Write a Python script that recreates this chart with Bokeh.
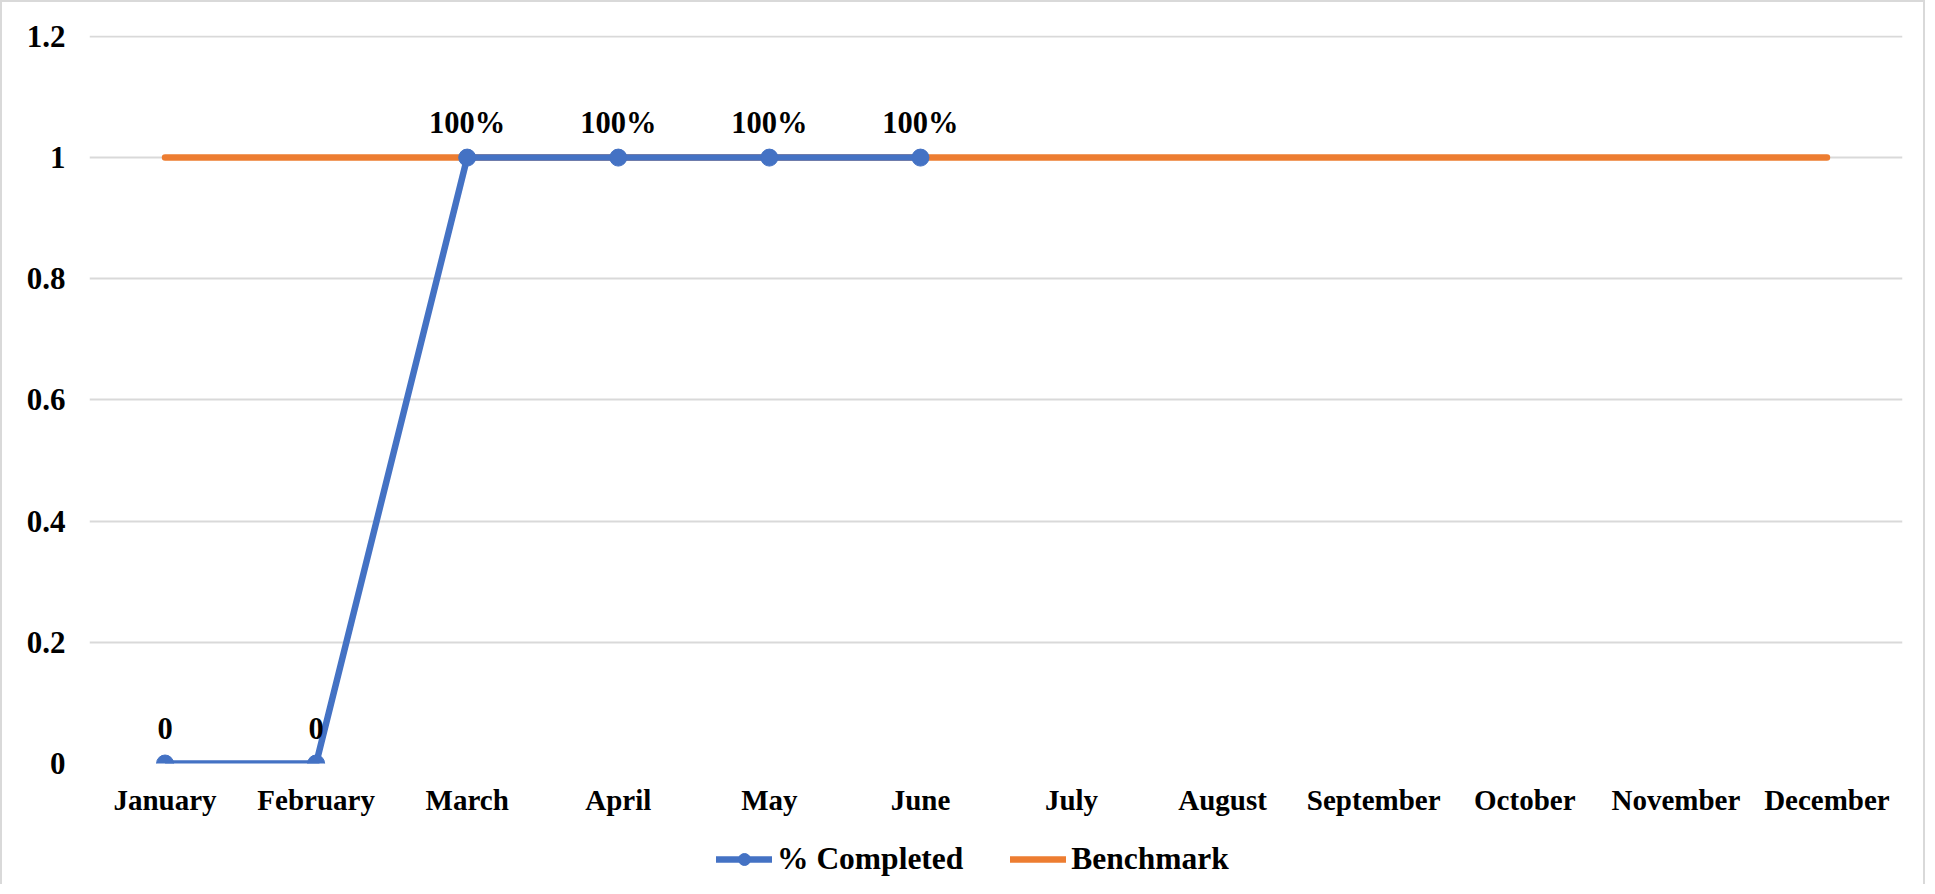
from bokeh.plotting import figure
from bokeh.layouts import column
from bokeh.models import (FixedTicker, CustomJSTickFormatter, Legend, LegendItem,
                          ColumnDataSource, Range1d)
from bokeh.core.properties import value
from bokeh.embed import file_html
from bokeh.resources import INLINE

months = ["January", "February", "March", "April", "May", "June", "July",
          "August", "September", "October", "November", "December"]
completed_months = ["January", "February", "March", "April", "May", "June"]
completed = [0, 0, 1, 1, 1, 1]
completed_labels = ["0", "0", "100%", "100%", "100%", "100%"]
benchmark = [1] * 12
y_ticks = [0, 0.2, 0.4, 0.6, 0.8, 1.0, 1.2]
series_names = ["% Completed", "Benchmark"]

FONT = "Liberation Serif"
BLUE = "#4472C4"
ORANGE = "#ED7D31"
GRID = "#D9D9D9"
W = 1925
NAN = float("nan")

p = figure(x_range=months, y_range=(0, 1.2015), width=W, height=830,
           output_backend="svg", toolbar_location=None,
           min_border_left=87, min_border_right=25, min_border_top=33,
           min_border_bottom=69)
p.x_range.range_padding = 0
p.outline_line_color = None
p.background_fill_color = "white"
p.border_fill_color = "white"
p.styles = {"border-left": "2px solid #D9D9D9", "border-top": "2px solid #D9D9D9",
            "border-right": "2px solid #D9D9D9", "box-sizing": "border-box"}

p.xgrid.grid_line_color = None
p.ygrid.grid_line_color = GRID
p.ygrid.grid_line_width = 2
p.yaxis.ticker = FixedTicker(ticks=y_ticks)
p.yaxis.formatter = CustomJSTickFormatter(code="return String(Math.round(tick*10)/10)")

for ax in (p.xaxis, p.yaxis):
    ax.axis_line_color = None
    ax.major_tick_line_color = None
    ax.minor_tick_line_color = None
    ax.major_tick_in = 0
    ax.major_tick_out = 0
    ax.major_label_text_font = FONT
    ax.major_label_text_font_style = "bold"
    ax.major_label_text_color = "black"
p.xaxis.major_label_text_font_size = "29px"
p.yaxis.major_label_text_font_size = "31px"
p.yaxis.major_label_standoff = 24
p.xaxis.major_label_standoff = 20

bench_src = ColumnDataSource(dict(x=months, y=benchmark))
comp_src = ColumnDataSource(dict(x=completed_months, y=completed, lab=completed_labels))

p.line("x", "y", source=bench_src, line_color=ORANGE, line_width=6.5, line_cap="round")
p.line("x", "y", source=comp_src, line_color=BLUE, line_width=6.5, line_join="round")
p.scatter("x", "y", source=comp_src, size=17, fill_color=BLUE, line_color=BLUE)
p.text("x", "y", text="lab", source=comp_src, y_offset=-35, text_align="center",
       text_baseline="middle", text_font=value(FONT), text_font_style="bold",
       text_font_size="30.5px", text_color="black")

# legend strip below the chart
q = figure(width=W, height=54, x_range=Range1d(0, 1), y_range=Range1d(0, 1),
           output_backend="svg", toolbar_location=None,
           x_axis_location=None, y_axis_location=None,
           min_border=0, min_border_left=0, min_border_right=0,
           min_border_top=0, min_border_bottom=0)
q.grid.visible = False
q.outline_line_color = None
q.background_fill_color = "white"
q.border_fill_color = "white"
q.styles = {"border-left": "2px solid #D9D9D9", "border-right": "2px solid #D9D9D9",
            "box-sizing": "border-box"}

lc = q.line(x=[NAN, NAN], y=[NAN, NAN], line_color=BLUE, line_width=6.5, line_cap="round")
lp = q.scatter(x=[NAN], y=[NAN], size=17, fill_color=BLUE, line_color=BLUE)
lb = q.line(x=[NAN, NAN], y=[NAN, NAN], line_color=ORANGE, line_width=6.5, line_cap="round")

legend = Legend(items=[LegendItem(label=series_names[0], renderers=[lc, lp], index=0),
                       LegendItem(label=series_names[1], renderers=[lb], index=0)],
                orientation="horizontal", location=(627, 7),
                padding=0, margin=0, spacing=47, label_standoff=5,
                glyph_width=56, glyph_height=30,
                label_text_font=FONT, label_text_font_style="bold",
                label_text_font_size="31.5px", label_text_color="black",
                border_line_color=None, background_fill_alpha=0)
q.add_layout(legend, "center")

layout = column(p, q, spacing=0)
open("out.html", "w").write(file_html(layout, INLINE))
